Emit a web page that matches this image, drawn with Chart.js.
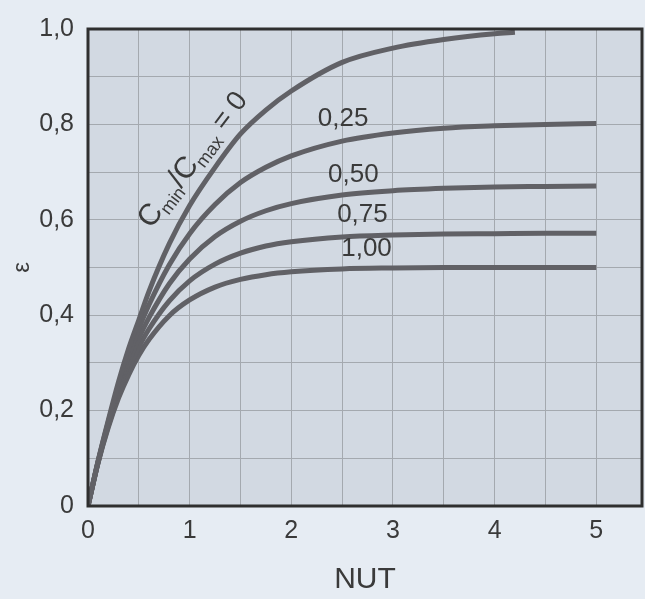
<!DOCTYPE html>
<html>
<head>
<meta charset="utf-8">
<script src="https://cdn.jsdelivr.net/npm/chart.js@4.4.1/dist/chart.umd.min.js"></script>
<style>
  html, body { margin: 0; padding: 0; background: #e6ecf3; }
  #wrap { width: 645px; height: 599px; }
</style>
</head>
<body>
<div id="wrap"><canvas id="effChart" width="645" height="599"></canvas></div>
<script>
// NUT values
const nutCr0 = [0, 0.1, 0.2, 0.3, 0.4, 0.5, 0.6, 0.8, 1.0, 1.25, 1.5, 1.75, 2.0, 2.5, 3.0, 3.5, 4.0, 4.2];
const nutOthers = [0, 0.1, 0.2, 0.3, 0.4, 0.5, 0.6, 0.8, 1.0, 1.25, 1.5, 1.75, 2.0, 2.5, 3.0, 3.5, 4.0, 4.5, 5.0];

// effectiveness
const epsCr0   = [0, 0.095, 0.18, 0.26, 0.33, 0.39, 0.45, 0.55, 0.63, 0.71, 0.78, 0.83, 0.87, 0.93, 0.96, 0.978, 0.99, 0.993];
const epsCr025 = [0, 0.094, 0.177, 0.25, 0.315, 0.372, 0.422, 0.506, 0.571, 0.632, 0.678, 0.71, 0.734, 0.765, 0.782, 0.792, 0.797, 0.8, 0.802];
const epsCr050 = [0, 0.093, 0.173, 0.241, 0.301, 0.352, 0.395, 0.466, 0.518, 0.565, 0.597, 0.619, 0.634, 0.652, 0.661, 0.666, 0.669, 0.67, 0.671];
const epsCr075 = [0, 0.092, 0.168, 0.233, 0.288, 0.333, 0.371, 0.43, 0.472, 0.507, 0.53, 0.545, 0.554, 0.564, 0.568, 0.57, 0.571, 0.572, 0.572];
const epsCr100 = [0, 0.091, 0.165, 0.226, 0.275, 0.316, 0.349, 0.399, 0.432, 0.459, 0.475, 0.485, 0.491, 0.497, 0.499, 0.5, 0.5, 0.5, 0.5];

const curveLabels = ["0,25", "0,50", "0,75", "1,00"];
const curveLabelX = [2.51, 2.61, 2.70, 2.74];
const curveLabelY = [0.812, 0.695, 0.611, 0.540];

const FONT = '"Liberation Sans", Arial, sans-serif';
const TEXT = '#3a3a3a';
const CURVE = '#616166';

function pts(xs, ys) {
    const out = [];
    for (let i = 0; i < xs.length; i++) out.push({ x: xs[i], y: ys[i] });
    return out;
}

function curve(label, xs, ys) {
    return {
        label: label,
        data: pts(xs, ys),
        borderColor: CURVE,
        borderWidth: 5,
        pointRadius: 0,
        fill: false,
        cubicInterpolationMode: 'monotone',
        borderCapStyle: 'butt'
    };
}

// plot background, frame and the text written on the curves
const decor = {
    id: 'decor',
    beforeDraw(chart) {
        const c = chart.ctx, a = chart.chartArea;
        c.save();
        c.fillStyle = '#e6ecf3';
        c.fillRect(0, 0, chart.width, chart.height);
        c.fillStyle = '#d2d9e2';
        c.fillRect(a.left, a.top, a.right - a.left, a.bottom - a.top);
        c.restore();
    },
    afterDraw(chart) {
        const c = chart.ctx, a = chart.chartArea;
        const xs = chart.scales.x, ys = chart.scales.y;
        c.save();
        c.strokeStyle = '#2f2f2f';
        c.lineWidth = 3;
        c.strokeRect(a.left, a.top, a.right - a.left, a.bottom - a.top);

        c.fillStyle = TEXT;
        c.font = '26px ' + FONT;
        c.textAlign = 'center';
        c.textBaseline = 'middle';
        for (let i = 0; i < curveLabels.length; i++) {
            c.fillText(curveLabels[i], xs.getPixelForValue(curveLabelX[i]), ys.getPixelForValue(curveLabelY[i]));
        }

        // Cmin/Cmax = 0 along the first curve
        const parts = [
            ['C', 30, 0], ['min', 18, 6], ['/', 30, 0], ['C', 30, 0], ['max', 18, 6], [' = 0', 28, 0]
        ];
        let total = 0;
        parts.forEach(p => { c.font = p[1] + 'px ' + FONT; total += c.measureText(p[0]).width; });
        c.translate(xs.getPixelForValue(1.02), ys.getPixelForValue(0.728));
        c.rotate(-53 * Math.PI / 180);
        c.textAlign = 'left';
        c.textBaseline = 'alphabetic';
        let x = -total / 2;
        parts.forEach(p => {
            c.font = p[1] + 'px ' + FONT;
            c.fillText(p[0], x, 10 + p[2]);
            x += c.measureText(p[0]).width;
        });
        c.restore();
    }
};

const ctx = document.getElementById('effChart');

new Chart(ctx, {
    type: 'line',
    data: {
        datasets: [
            curve('0', nutCr0, epsCr0),
            curve('0,25', nutOthers, epsCr025),
            curve('0,50', nutOthers, epsCr050),
            curve('0,75', nutOthers, epsCr075),
            curve('1,00', nutOthers, epsCr100)
        ]
    },
    options: {
        responsive: false,
        animation: false,
        layout: { padding: { top: 17, right: 3, left: 0, bottom: 0 } },
        plugins: { legend: { display: false }, tooltip: { enabled: false } },
        scales: {
            x: {
                type: 'linear',
                min: 0,
                max: 5.45,
                afterFit: s => { s.height = 93; },
                grid: { color: '#a4a9af', lineWidth: 1, drawTicks: false },
                border: { display: false },
                ticks: {
                    stepSize: 0.5,
                    autoSkip: false,
                    includeBounds: false,
                    maxRotation: 0,
                    padding: 10,
                    color: TEXT,
                    font: { family: FONT, size: 25 },
                    callback: v => (Math.abs(v - Math.round(v)) < 1e-6 ? String(Math.round(v)) : '')
                },
                title: {
                    display: true,
                    text: 'NUT',
                    color: TEXT,
                    font: { family: FONT, size: 30 },
                    padding: { top: 0, bottom: 1 }
                }
            },
            y: {
                min: 0,
                max: 1.0,
                afterFit: s => { s.width = 88; },
                grid: { color: '#a4a9af', lineWidth: 1, drawTicks: false },
                border: { display: false },
                ticks: {
                    stepSize: 0.1,
                    autoSkip: false,
                    padding: 14,
                    color: TEXT,
                    font: { family: FONT, size: 25 },
                    callback: v => {
                        const k = Math.round(v * 10);
                        if (k % 2 !== 0) return '';
                        if (k === 0) return '0';
                        return (k / 10).toFixed(1).replace('.', ',');
                    }
                },
                title: {
                    display: true,
                    text: 'ε',
                    color: TEXT,
                    font: { family: FONT, size: 24 },
                    padding: { top: 8, bottom: 0 }
                }
            }
        }
    },
    plugins: [decor]
});
</script>
</body>
</html>
